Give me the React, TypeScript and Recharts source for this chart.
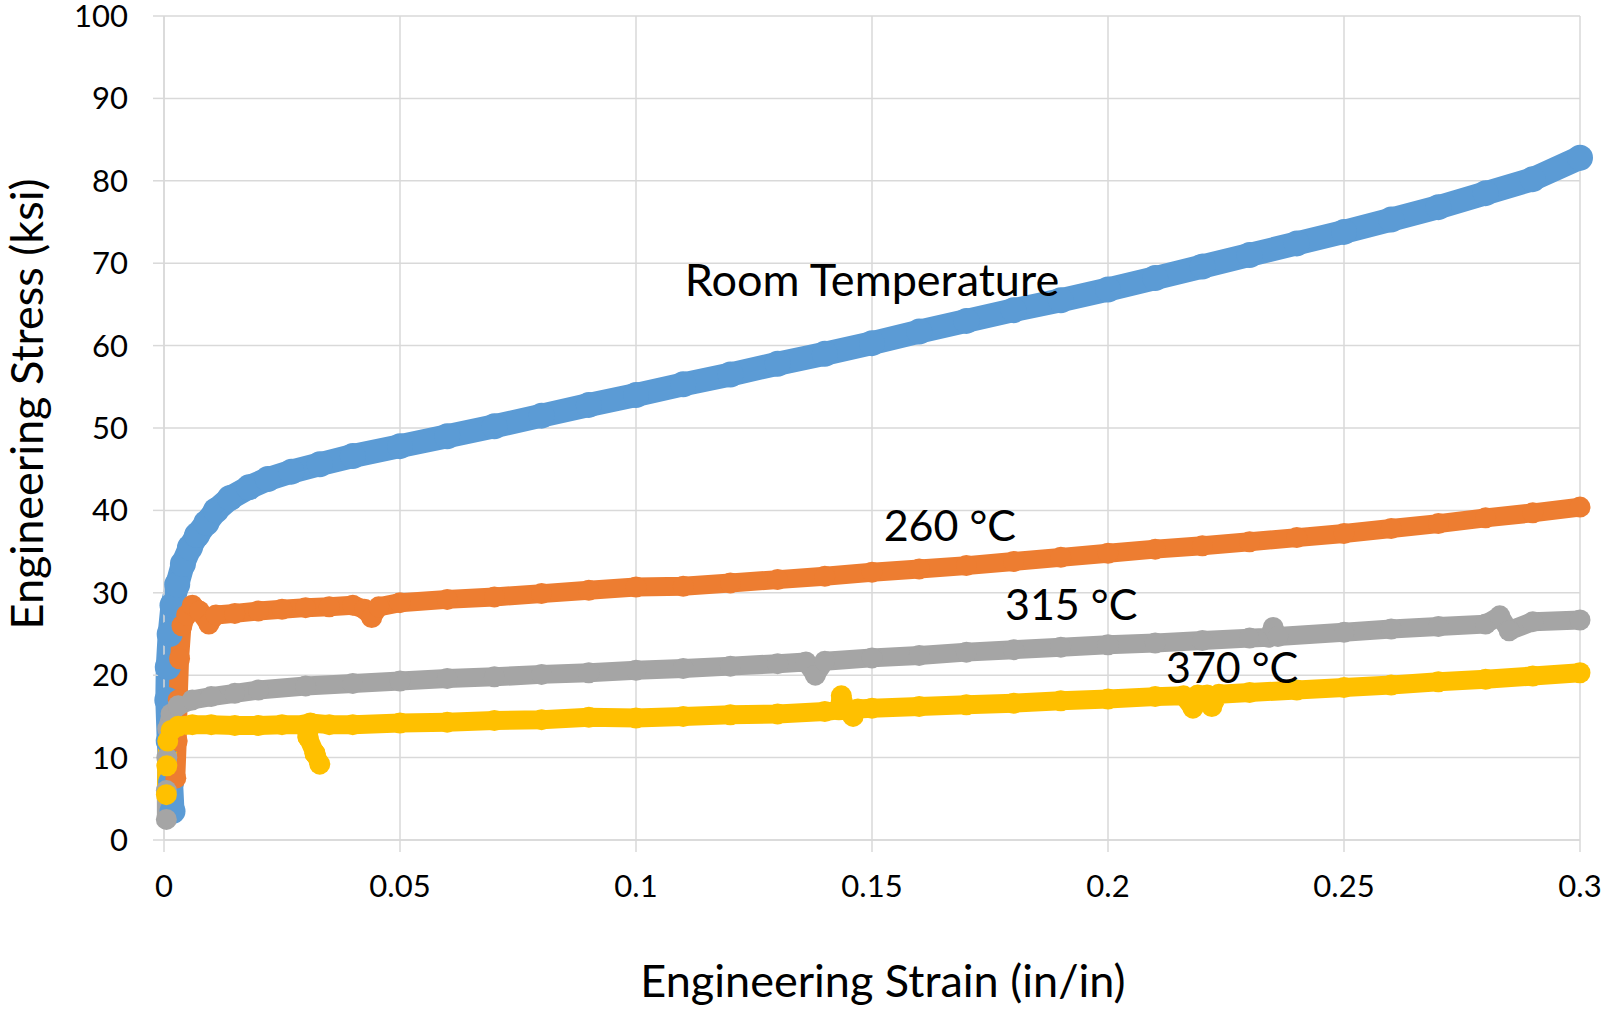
import React from 'react';
import { LineChart, Line, XAxis, YAxis, CartesianGrid, ReferenceDot, Label } from 'recharts';

const strainTicks = [0, 0.05, 0.1, 0.15, 0.2, 0.25, 0.3];
const stressTicks = [0, 10, 20, 30, 40, 50, 60, 70, 80, 90, 100];

// Room Temperature
const rtStrain = [0.0018, 0.0015, 0.001, 0.0007, 0.0008, 0.0012, 0.0018, 0.0028, 0.004, 0.0055, 0.007, 0.009, 0.011, 0.014, 0.018, 0.022, 0.027, 0.033, 0.04, 0.05, 0.06, 0.07, 0.08, 0.09, 0.1, 0.11, 0.12, 0.13, 0.14, 0.15, 0.16, 0.17, 0.18, 0.19, 0.2, 0.21, 0.22, 0.23, 0.24, 0.25, 0.26, 0.27, 0.28, 0.29, 0.3];
const rtStress = [3.5, 7, 12, 17, 21, 25, 28.5, 31, 33.5, 35.5, 37, 38.5, 40, 41.5, 42.8, 43.8, 44.7, 45.6, 46.6, 47.8, 49, 50.2, 51.5, 52.8, 54, 55.3, 56.5, 57.8, 59, 60.3, 61.7, 63, 64.3, 65.5, 66.8, 68.2, 69.6, 71, 72.4, 73.8, 75.3, 76.8, 78.5, 80.2, 82.8];

// 260 °C
const c260Strain = [0.0025, 0.0028, 0.003, 0.0033, 0.0038, 0.0048, 0.006, 0.0075, 0.0095, 0.011, 0.015, 0.02, 0.025, 0.03, 0.035, 0.04, 0.0425, 0.044, 0.0455, 0.05, 0.06, 0.07, 0.08, 0.09, 0.1, 0.11, 0.12, 0.13, 0.14, 0.15, 0.16, 0.17, 0.18, 0.19, 0.2, 0.21, 0.22, 0.23, 0.24, 0.25, 0.26, 0.27, 0.28, 0.29, 0.3];
const c260Stress = [7.5, 12, 17, 22, 26, 27.3, 28.5, 27.8, 26.2, 27.3, 27.5, 27.8, 28, 28.2, 28.3, 28.5, 28, 27, 28.3, 28.8, 29.2, 29.5, 29.9, 30.3, 30.7, 30.8, 31.2, 31.6, 32, 32.5, 32.9, 33.3, 33.8, 34.3, 34.8, 35.3, 35.7, 36.2, 36.7, 37.2, 37.8, 38.4, 39.1, 39.7, 40.4];

// 315 °C
const c315Strain = [0.0005, 0.0005, 0.0006, 0.0008, 0.0015, 0.003, 0.006, 0.01, 0.015, 0.02, 0.03, 0.04, 0.05, 0.06, 0.07, 0.08, 0.09, 0.1, 0.11, 0.12, 0.13, 0.136, 0.138, 0.14, 0.15, 0.16, 0.17, 0.18, 0.19, 0.2, 0.21, 0.22, 0.23, 0.234, 0.235, 0.236, 0.25, 0.26, 0.27, 0.28, 0.283, 0.285, 0.29, 0.3];
const c315Stress = [2.5, 6, 10, 13.5, 15.3, 16.3, 17, 17.4, 17.8, 18.2, 18.7, 19, 19.3, 19.6, 19.8, 20.1, 20.3, 20.6, 20.8, 21.1, 21.4, 21.6, 20, 21.7, 22.1, 22.4, 22.8, 23.1, 23.4, 23.7, 23.9, 24.2, 24.5, 24.6, 25.8, 24.7, 25.2, 25.6, 25.9, 26.2, 27.2, 25.4, 26.5, 26.7];

// 370 °C
const c370Strain = [0.0005, 0.0006, 0.0008, 0.0015, 0.003, 0.006, 0.01, 0.015, 0.02, 0.025, 0.0298, 0.0305, 0.032, 0.033, 0.032, 0.0305, 0.031, 0.035, 0.04, 0.05, 0.06, 0.07, 0.08, 0.09, 0.1, 0.11, 0.12, 0.13, 0.14, 0.143, 0.1435, 0.1445, 0.146, 0.147, 0.15, 0.16, 0.17, 0.18, 0.19, 0.2, 0.21, 0.216, 0.218, 0.219, 0.221, 0.222, 0.2235, 0.23, 0.24, 0.25, 0.26, 0.27, 0.28, 0.29, 0.3];
const c370Stress = [5.5, 9, 12, 13.3, 13.8, 14, 14, 13.9, 13.9, 14, 14, 12.5, 10.5, 9.2, 10.5, 12.5, 14.2, 14, 14, 14.2, 14.3, 14.5, 14.6, 14.9, 14.8, 15, 15.2, 15.3, 15.6, 15.8, 17.5, 15.8, 15, 15.9, 16, 16.2, 16.4, 16.6, 16.9, 17.1, 17.4, 17.5, 16, 17.6, 17.6, 16.2, 17.7, 17.9, 18.2, 18.5, 18.8, 19.2, 19.5, 19.9, 20.3];

const seriesNames = ['Room Temperature', '260 °C', '315 °C', '370 °C'];
const seriesColors = ['#5B9BD5', '#ED7D31', '#A5A5A5', '#FFC000'];
const labelStrain = [0.15, 0.1665, 0.1922, 0.2263];
const labelStress = [67.9, 38.1, 28.6, 20.9];

const toPoints = (xs: number[], ys: number[]) => xs.map((x, i) => ({ x, y: ys[i] }));

const seriesData = [
  toPoints(rtStrain, rtStress),
  toPoints(c260Strain, c260Stress),
  toPoints(c315Strain, c315Stress),
  toPoints(c370Strain, c370Stress),
];

const FONT = 'Lato';
const GRID = '#d9d9d9';

export default function App() {
  return (
    <div style={{ position: 'absolute', left: 0, top: 0, background: '#fff' }}>
      <LineChart width={1604} height={1010} margin={{ top: 16, right: 24, bottom: 0, left: 0 }}>
        <CartesianGrid stroke={GRID} strokeWidth={1.5} />
        <XAxis
          dataKey="x"
          type="number"
          domain={[0, 0.3]}
          ticks={strainTicks}
          interval={0}
          height={170}
          tickSize={12}
          tickMargin={23}
          axisLine={{ stroke: GRID, strokeWidth: 1.5 }}
          tickLine={{ stroke: GRID, strokeWidth: 1.5 }}
          tick={{ fill: '#000', fontSize: 31, fontFamily: FONT }}
        >
          <Label
            content={() => (
              <text x={883} y={997} textAnchor="middle" fill="#000" fontSize={45} fontFamily={FONT}>
                Engineering Strain (in/in)
              </text>
            )}
          />
        </XAxis>
        <YAxis
          type="number"
          domain={[0, 100]}
          ticks={stressTicks}
          interval={0}
          width={164}
          tickSize={11}
          tickMargin={25}
          axisLine={{ stroke: GRID, strokeWidth: 1.5 }}
          tickLine={{ stroke: GRID, strokeWidth: 1.5 }}
          tick={{ fill: '#000', fontSize: 31, fontFamily: FONT }}
        >
          <Label
            content={() => (
              <text
                x={0}
                y={0}
                transform="translate(43 404) rotate(-90)"
                textAnchor="middle"
                fill="#000"
                fontSize={45}
                fontFamily={FONT}
              >
                Engineering Stress (ksi)
              </text>
            )}
          />
        </YAxis>
        {seriesData.map((d, i) => (
          <Line
            key={seriesNames[i]}
            name={seriesNames[i]}
            data={d}
            dataKey="y"
            type="linear"
            stroke={seriesColors[i]}
            strokeWidth={i === 0 ? 24 : 19}
            strokeLinejoin="round"
            strokeLinecap="round"
            dot={{ r: i === 0 ? 13 : 10.5, fill: seriesColors[i], stroke: 'none' }}
            activeDot={false}
            isAnimationActive={false}
          />
        ))}
        {seriesNames.map((n, i) => (
          <ReferenceDot
            key={'lbl' + n}
            x={labelStrain[i]}
            y={labelStress[i]}
            r={0}
            fill="none"
            stroke="none"
            label={{ value: n, position: 'center', fill: '#000', fontSize: i === 0 ? 45 : 43, fontFamily: FONT }}
          />
        ))}
      </LineChart>
    </div>
  );
}
